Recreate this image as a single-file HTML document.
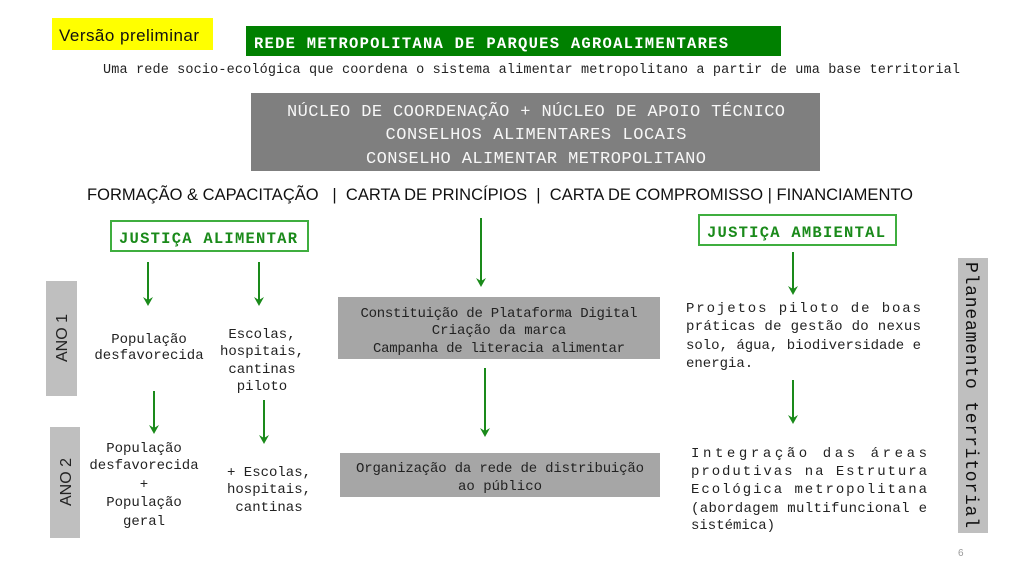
<!DOCTYPE html>
<html><head><meta charset="utf-8"><style>
html,body{margin:0;padding:0;background:#fff;width:1024px;height:576px;overflow:hidden}
svg{display:block}
.m{font-family:"Liberation Mono",monospace}
.s{font-family:"Liberation Sans",sans-serif}
</style></head><body>
<svg width="1024" height="576" viewBox="0 0 1024 576" xmlns="http://www.w3.org/2000/svg">
<defs>
<g id="ah"><polygon points="-5,-9 0,0 5,-9 0,-6" fill="#1a8a1a"/></g>
</defs>
<rect x="52" y="18" width="161" height="32" fill="#ffff00"/>
<text x="59" y="41" class="s" font-size="17" fill="#111" textLength="140">Versão preliminar</text>
<rect x="246" y="26" width="535" height="30" fill="#008000"/>
<text x="254" y="48" class="m" font-size="15.5" font-weight="bold" fill="#fff" textLength="474">REDE METROPOLITANA DE PARQUES AGROALIMENTARES</text>
<text x="103" y="73" class="m" font-size="13.5" fill="#222" textLength="857">Uma rede socio-ecológica que coordena o sistema alimentar metropolitano a partir de uma base territorial</text>

<rect x="251" y="93" width="569" height="78" fill="#7f7f7f"/>
<g class="m" font-size="17" fill="#f7f7f7" text-anchor="middle">
<text x="536" y="116" textLength="498">NÚCLEO DE COORDENAÇÃO + NÚCLEO DE APOIO TÉCNICO</text>
<text x="536" y="139" textLength="301">CONSELHOS ALIMENTARES LOCAIS</text>
<text x="536" y="163" textLength="340">CONSELHO ALIMENTAR METROPOLITANO</text>
</g>
<text x="87" y="200" class="s" font-size="16.5" fill="#111" textLength="826" xml:space="preserve">FORMAÇÃO &amp; CAPACITAÇÃO   |  CARTA DE PRINCÍPIOS  |  CARTA DE COMPROMISSO | FINANCIAMENTO</text>

<rect x="111" y="221" width="197" height="30" fill="#fff" stroke="#3fae3f" stroke-width="2"/>
<text x="119" y="243" class="m" font-size="15.5" font-weight="bold" fill="#1a8a1a" textLength="178">JUSTIÇA ALIMENTAR</text>
<rect x="699" y="215" width="197" height="30" fill="#fff" stroke="#3fae3f" stroke-width="2"/>
<text x="707" y="237" class="m" font-size="15.5" font-weight="bold" fill="#1a8a1a" textLength="178">JUSTIÇA AMBIENTAL</text>

<g stroke="#1a8a1a" stroke-width="2">
<line x1="148" y1="262" x2="148" y2="302"/>
<line x1="259" y1="262" x2="259" y2="302"/>
<line x1="481" y1="218" x2="481" y2="283"/>
<line x1="154" y1="391" x2="154" y2="430"/>
<line x1="264" y1="400" x2="264" y2="440"/>
<line x1="485" y1="368" x2="485" y2="433"/>
<line x1="793" y1="252" x2="793" y2="291"/>
<line x1="793" y1="380" x2="793" y2="420"/>
</g>
<use href="#ah" x="148" y="306"/><use href="#ah" x="259" y="306"/><use href="#ah" x="481" y="287"/>
<use href="#ah" x="154" y="434"/><use href="#ah" x="264" y="444"/><use href="#ah" x="485" y="437"/>
<use href="#ah" x="793" y="295"/><use href="#ah" x="793" y="424"/>

<rect x="46" y="281" width="31" height="115" fill="#bfbfbf"/>
<text transform="translate(67,338) rotate(-90)" class="s" font-size="16" fill="#222" text-anchor="middle">ANO 1</text>
<rect x="50" y="427" width="30" height="111" fill="#bfbfbf"/>
<text transform="translate(71,482) rotate(-90)" class="s" font-size="16" fill="#222" text-anchor="middle">ANO 2</text>
<rect x="958" y="258" width="30" height="275" fill="#bfbfbf"/>
<text transform="translate(966,262) rotate(90)" class="m" font-size="18" fill="#111" textLength="266">Planeamento territorial</text>

<g class="m" font-size="14" fill="#222" text-anchor="middle">
<text x="149" y="343">População</text>
<text x="149" y="359">desfavorecida</text>
<text x="262" y="338">Escolas,</text>
<text x="262" y="355">hospitais,</text>
<text x="262" y="373">cantinas</text>
<text x="262" y="390">piloto</text>
<text x="144" y="452">População</text>
<text x="144" y="469">desfavorecida</text>
<text x="144" y="488">+</text>
<text x="144" y="506">População</text>
<text x="144" y="525">geral</text>
<text x="269" y="476">+ Escolas,</text>
<text x="269" y="493">hospitais,</text>
<text x="269" y="511">cantinas</text>
</g>

<rect x="338" y="297" width="322" height="62" fill="#a6a6a6"/>
<g class="m" font-size="14" fill="#222" text-anchor="middle">
<text x="499" y="317" textLength="277">Constituição de Plataforma Digital</text>
<text x="499" y="334">Criação da marca</text>
<text x="499" y="352" textLength="252">Campanha de literacia alimentar</text>
</g>
<rect x="340" y="453" width="320" height="44" fill="#a6a6a6"/>
<g class="m" font-size="14" fill="#222" text-anchor="middle">
<text x="500" y="472" textLength="288">Organização da rede de distribuição</text>
<text x="500" y="490">ao público</text>
</g>

<g class="m" font-size="14" fill="#222">
<text x="686" y="312" textLength="235">Projetos piloto de boas</text>
<text x="686" y="330" textLength="235">práticas de gestão do nexus</text>
<text x="686" y="349" textLength="235">solo, água, biodiversidade e</text>
<text x="686" y="367">energia.</text>
<text x="691" y="457" textLength="236">Integração das áreas</text>
<text x="691" y="475" textLength="236">produtivas na Estrutura</text>
<text x="691" y="493" textLength="236">Ecológica metropolitana</text>
<text x="691" y="512" textLength="236">(abordagem multifuncional e</text>
<text x="691" y="529">sistémica)</text>
</g>
<text x="958" y="556" class="s" font-size="10" fill="#999">6</text>
</svg>
</body></html>
